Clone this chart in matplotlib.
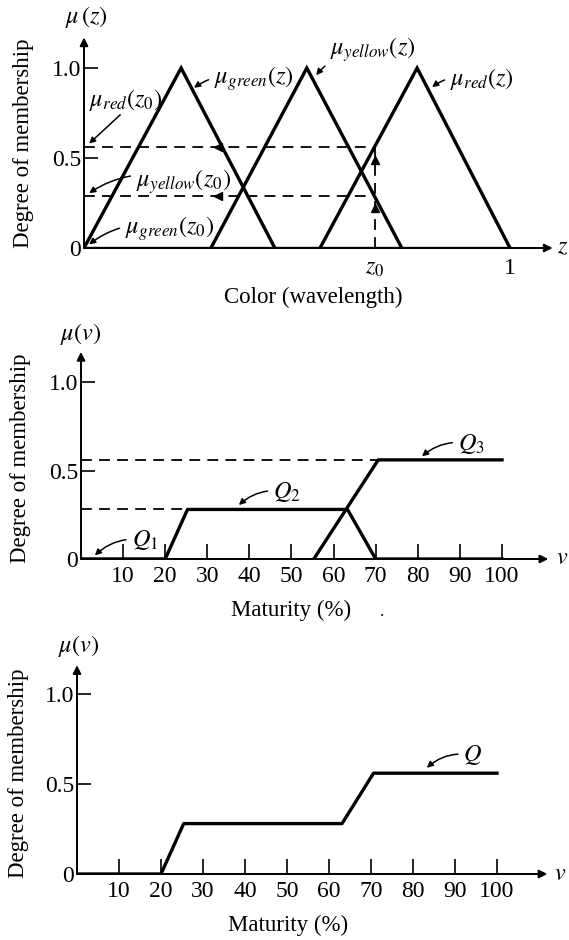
import numpy as np
import matplotlib
matplotlib.use('Agg')
import matplotlib.pyplot as plt

plt.rcParams['font.family'] = 'serif'
plt.rcParams['font.serif'] = ['Liberation Serif', 'DejaVu Serif']
plt.rcParams['mathtext.fontset'] = 'stix'

W, H = 569, 940
FS = 16.5   # plain text
TS = 17     # tick labels
MS = 17.5   # math annotations

# top panel: triangular membership functions (start, peak, end)
green_tri = [0.0, 0.228, 0.448]
yellow_tri = [0.298, 0.523, 0.746]
red_tri = [0.554, 0.782, 1.0]
z0 = 0.682

# middle panel: clipped output sets (maturity %, membership)
q1_x = [0, 20]
q1_y = [0, 0]
q2_x = [0, 20, 25.3, 63.3, 70, 100]
q2_y = [0, 0, 0.28, 0.28, 0, 0]
q3_x = [55.3, 70.6, 100]
q3_y = [0, 0.56, 0.56]

# bottom panel: aggregated set Q
q_x = [0, 20, 25.4, 63.1, 70.6, 100]
q_y = [0, 0, 0.28, 0.28, 0.56, 0.56]

mat_ticks = [10, 20, 30, 40, 50, 60, 70, 80, 90, 100]


def px(x, y):
    return x / W, 1 - y / H


def make_axes(ox, oy, sx, sy, xmax, ymax):
    ax = fig.add_axes([ox / W, 1 - oy / H, xmax * sx / W, ymax * sy / H])
    ax.set_xlim(0, xmax)
    ax.set_ylim(0, ymax)
    for s in ax.spines.values():
        s.set_visible(False)
    ax.patch.set_alpha(0)
    ax.annotate('', xy=(1, 0), xytext=(0, 0), xycoords='axes fraction',
                arrowprops=dict(arrowstyle='-|>', lw=1.4, color='k', mutation_scale=12,
                                shrinkA=0, shrinkB=0))
    ax.annotate('', xy=(0, 1), xytext=(0, 0), xycoords='axes fraction',
                arrowprops=dict(arrowstyle='-|>', lw=1.4, color='k', mutation_scale=12,
                                shrinkA=0, shrinkB=0))
    ax.set_yticks([0, 0.5, 1.0])
    ax.set_yticklabels(['0', '0.5', '1.0'])
    ax.tick_params(axis='y', direction='in', length=10, width=1.2, pad=2, labelsize=TS)
    return ax


def pointer(ax, text, xy, xytext, ha='left'):
    ax.annotate(text, xy=xy, xytext=xytext, fontsize=MS, ha=ha, va='center',
                arrowprops=dict(arrowstyle='-|>', lw=1.1, color='k', mutation_scale=9,
                                connectionstyle='arc3,rad=0.25', shrinkA=2, shrinkB=0))


fig = plt.figure(figsize=(W / 100, H / 100), dpi=100)

# ---------- top ----------
ax1 = make_axes(84, 248, 426, 180, 1.10, 1.17)
for tri in (green_tri, yellow_tri, red_tri):
    ax1.plot(tri, [0, 1, 0], color='k', lw=2.4, solid_joinstyle='miter')
ax1.plot([0, 1.0], [0, 0], color='k', lw=2.4)

mu_red = np.interp(z0, red_tri, [0, 1, 0])
mu_yel = np.interp(z0, yellow_tri, [0, 1, 0])
for m in (mu_red, mu_yel):
    ax1.plot([0, z0], [m, m], color='k', lw=1.3, ls=(0, (6, 4)))
    ax1.plot(0.314, m, marker='<', color='k', ms=6)
ax1.plot([z0, z0], [0, mu_red], color='k', lw=1.3, ls=(0, (6, 4)))
ax1.plot(z0, 0.49, marker='^', color='k', ms=6)
ax1.plot(z0, 0.22, marker='^', color='k', ms=6)

ax1.set_xticks([z0, 1])
ax1.set_xticklabels(['$z_0$', '1'])
ax1.tick_params(axis='x', length=0, pad=7, labelsize=TS)

pointer(ax1, r'$\mu_{green}(z)$', (0.258, 0.89), (0.305, 0.94))
pointer(ax1, r'$\mu_{yellow}(z)$', (0.545, 0.96), (0.577, 1.10))
pointer(ax1, r'$\mu_{red}(z)$', (0.817, 0.894), (0.859, 0.94))
ax1.text(0.012, 0.82, r'$\mu_{red}(z_0)$', fontsize=MS, va='center')
ax1.annotate('', xy=(0.012, 0.58), xytext=(0.085, 0.74),
             arrowprops=dict(arrowstyle='-|>', lw=1.1, color='k', mutation_scale=9,
                             shrinkA=0, shrinkB=0))
pointer(ax1, r'$\mu_{yellow}(z_0)$', (0.012, 0.305), (0.122, 0.37))
pointer(ax1, r'$\mu_{green}(z_0)$', (0.012, 0.02), (0.096, 0.11))

fig.text(*px(86, 17), r'$\mu\,(z)$', fontsize=MS, ha='center', va='center')
fig.text(*px(557, 248), '$z$', fontsize=MS, ha='left', va='center')
fig.text(*px(24, 143), 'Degree of membership', fontsize=FS, rotation=90,
         ha='center', va='center')
fig.text(*px(313, 297), 'Color (wavelength)', fontsize=FS, ha='center', va='center')

# ---------- middle ----------
ax2 = make_axes(81, 559, 4.21, 177, 111, 1.17)
ax2.plot([0, 100], [0, 0], color='k', lw=2.0)
ax2.plot(q1_x, q1_y, color='k', lw=2.4)
ax2.plot(q2_x, q2_y, color='k', lw=2.4)
ax2.plot(q3_x, q3_y, color='k', lw=2.4)
ax2.plot([0, q3_x[1]], [q3_y[1], q3_y[1]], color='k', lw=1.3, ls=(0, (6, 4)))
ax2.plot([0, q2_x[2]], [q2_y[2], q2_y[2]], color='k', lw=1.3, ls=(0, (6, 4)))
ax2.set_xticks(mat_ticks)
ax2.tick_params(axis='x', direction='in', length=11, width=1.2, pad=5, labelsize=TS)
pointer(ax2, '$Q_3$', (81, 0.58), (89.5, 0.65))
pointer(ax2, '$Q_2$', (37.5, 0.305), (45.6, 0.38))
pointer(ax2, '$Q_1$', (3.3, 0.02), (12, 0.107))

fig.text(*px(81, 334), r'$\mu(v)$', fontsize=MS, ha='center', va='center')
fig.text(*px(556, 559), '$v$', fontsize=MS, ha='left', va='center')
fig.text(*px(21, 458), 'Degree of membership', fontsize=FS, rotation=90,
         ha='center', va='center')
fig.text(*px(291, 610), 'Maturity (%)', fontsize=FS, ha='center', va='center')
fig.text(*px(382, 612), '.', fontsize=12, ha='center', va='center')

# ---------- bottom ----------
ax3 = make_axes(77, 874, 4.2, 180, 112, 1.16)
ax3.plot(q_x, q_y, color='k', lw=2.4)
ax3.set_xticks(mat_ticks)
ax3.tick_params(axis='x', direction='in', length=11, width=1.2, pad=5, labelsize=TS)
pointer(ax3, '$Q$', (83.3, 0.59), (92, 0.66))

fig.text(*px(79, 646), r'$\mu(v)$', fontsize=MS, ha='center', va='center')
fig.text(*px(554, 874), '$v$', fontsize=MS, ha='left', va='center')
fig.text(*px(19, 773), 'Degree of membership', fontsize=FS, rotation=90,
         ha='center', va='center')
fig.text(*px(288, 925), 'Maturity (%)', fontsize=FS, ha='center', va='center')

fig.savefig('out.png', dpi=100)
